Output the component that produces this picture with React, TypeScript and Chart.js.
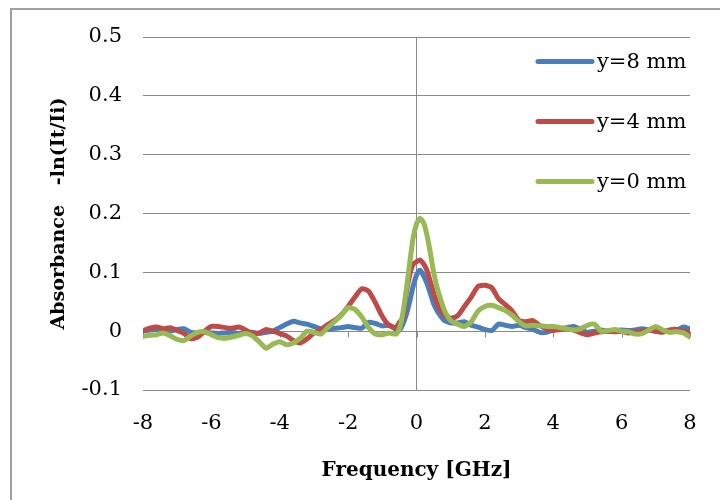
import React, { useEffect, useRef } from "react";
import { Chart, registerables } from "chart.js";

Chart.register(...registerables);

const freq = [
  -8, -7.8, -7.6, -7.4, -7.2, -7, -6.8, -6.6, -6.4, -6.2, -6, -5.8, -5.6, -5.4, -5.2, -5, -4.8, -4.6, -4.4, -4.2,
  -4, -3.8, -3.6, -3.4, -3.2, -3, -2.8, -2.6, -2.4, -2.2, -2, -1.8, -1.6, -1.4, -1.2, -1, -0.8, -0.6,
  -0.5, -0.4, -0.3, -0.2, -0.1, 0, 0.1, 0.2, 0.3, 0.4, 0.5, 0.6, 0.7, 0.8, 0.9,
  1, 1.2, 1.4, 1.6, 1.8, 2, 2.2, 2.4, 2.6, 2.8, 3, 3.2, 3.4, 3.6, 3.8, 4, 4.2, 4.4, 4.6, 4.8,
  5, 5.2, 5.4, 5.6, 5.8, 6, 6.2, 6.4, 6.6, 6.8, 7, 7.2, 7.4, 7.6, 7.8, 8,
];

const absY8 = [
  0.0, 0.002, 0.003, 0.001, 0.0, 0.003, 0.004, -0.002, -0.003, -0.002, -0.003, -0.004, -0.003, -0.002, -0.004, -0.003, -0.002, -0.004, -0.002, 0.0,
  0.006, 0.012, 0.017, 0.014, 0.012, 0.008, 0.004, 0.003, 0.005, 0.006, 0.008, 0.006, 0.005, 0.015, 0.013, 0.009, 0.01, 0.003,
  0.002, 0.012, 0.028, 0.05, 0.076, 0.095, 0.104, 0.095, 0.082, 0.065, 0.047, 0.035, 0.026, 0.019, 0.016,
  0.014, 0.014, 0.016, 0.01, 0.007, 0.003, 0.001, 0.012, 0.01, 0.008, 0.01, 0.006, 0.003, -0.002, -0.002, 0.002, 0.004, 0.006, 0.008, 0.003,
  -0.002, 0.0, 0.002, 0.0, 0.001, 0.002, 0.001, 0.002, 0.004, 0.002, 0.0, 0.001, 0.0, 0.001, 0.007, 0.004,
];

const absY4 = [
  0.001, 0.005, 0.007, 0.004, 0.006, 0.001, -0.004, -0.013, -0.01, 0.0, 0.008, 0.008, 0.006, 0.005, 0.007, 0.002, -0.004, -0.003, 0.003, 0.0,
  -0.004, -0.008, -0.016, -0.02, -0.013, -0.003, 0.003, 0.011, 0.018, 0.028, 0.042, 0.058, 0.072, 0.068, 0.048, 0.025, 0.01, 0.006,
  0.015, 0.022, 0.065, 0.095, 0.114, 0.118, 0.121, 0.115, 0.104, 0.085, 0.065, 0.048, 0.036, 0.028, 0.024,
  0.022, 0.026, 0.042, 0.058, 0.076, 0.078, 0.074, 0.055, 0.045, 0.034, 0.018, 0.016, 0.018, 0.01, 0.004, 0.001, 0.003, 0.004, 0.002, -0.003,
  -0.006, -0.003, -0.001, 0.0, -0.001, 0.0, -0.003, -0.001, 0.0, 0.002, 0.0, -0.002, 0.002, 0.003, 0.0, -0.001,
];

const absY0 = [
  -0.009, -0.007, -0.006, -0.003, -0.008, -0.014, -0.016, -0.008, -0.002, -0.001, -0.006, -0.011, -0.012, -0.01, -0.007, -0.004, -0.008, -0.018, -0.029, -0.022,
  -0.018, -0.023, -0.02, -0.012, 0.0, -0.002, -0.005, 0.006, 0.016, 0.027, 0.04, 0.037, 0.024, 0.006, -0.005, -0.006, -0.003, -0.005,
  0.005, 0.03, 0.07, 0.115, 0.158, 0.182, 0.192, 0.185, 0.165, 0.135, 0.1, 0.075, 0.055, 0.038, 0.026,
  0.018, 0.012, 0.008, 0.016, 0.034, 0.042, 0.044, 0.04, 0.035, 0.027, 0.016, 0.009, 0.01, 0.009, 0.008, 0.008, 0.006, 0.004, 0.002, 0.004,
  0.01, 0.012, 0.0, 0.001, 0.003, 0.0, -0.001, -0.005, -0.004, 0.002, 0.008, 0.002, -0.002, -0.001, -0.003, -0.01,
];

const seriesLabels = ["y=8 mm", "y=4 mm", "y=0 mm"];
const seriesColors = ["#4a7ebb", "#be4b48", "#98b954"];
const seriesValues = [absY8, absY4, absY0];

const xTitle = "Frequency [GHz]";
const yTitle = "Absorbance   -ln(It/Ii)";

const FONT = "'DejaVu Serif', serif";
const GRID = "#8a8a8a";

export default function App() {
  const ref = useRef<HTMLCanvasElement>(null);

  useEffect(() => {
    if (!ref.current) return;

    const zeroAxis = {
      id: "zeroAxis",
      beforeDatasetsDraw(chart: any) {
        const { ctx } = chart;
        const xs = chart.scales.x;
        const ys = chart.scales.y;
        const y0 = Math.round(ys.getPixelForValue(0)) + 0.5;
        ctx.save();
        ctx.strokeStyle = GRID;
        ctx.lineWidth = 1;
        xs.ticks.forEach((t: any) => {
          const px = Math.round(xs.getPixelForValue(t.value)) + 0.5;
          ctx.beginPath();
          ctx.moveTo(px, y0);
          ctx.lineTo(px, y0 + 6);
          ctx.stroke();
        });
        ctx.restore();
      },
    };

    const insideLegend = {
      id: "insideLegend",
      afterDraw(chart: any) {
        const { ctx, chartArea } = chart;
        ctx.save();
        ctx.font = `21px ${FONT}`;
        ctx.textAlign = "left";
        ctx.textBaseline = "middle";
        seriesLabels.forEach((label, i) => {
          const y = chartArea.top + 24.5 + i * 60;
          const x1 = chartArea.right - 152;
          const x2 = chartArea.right - 98;
          ctx.strokeStyle = seriesColors[i];
          ctx.lineWidth = 5;
          ctx.lineCap = "round";
          ctx.beginPath();
          ctx.moveTo(x1, y);
          ctx.lineTo(x2, y);
          ctx.stroke();
          ctx.fillStyle = "#000";
          ctx.fillText(label, chartArea.right - 93, y + 1);
        });
        ctx.restore();
      },
    };

    const datasets = seriesValues.map((vals, i) => ({
      label: seriesLabels[i],
      data: freq.map((f, k) => ({ x: f, y: vals[k] })),
      borderColor: seriesColors[i],
      backgroundColor: seriesColors[i],
      borderWidth: 5,
      pointRadius: 0,
      tension: 0.2,
      borderCapStyle: "round",
      borderJoinStyle: "round",
      fill: false,
      order: 2 - i,
    }));

    const chart = new Chart(ref.current, {
      type: "line",
      data: { datasets } as any,
      options: {
        animation: false,
        responsive: true,
        maintainAspectRatio: false,
        layout: { padding: { left: 0, right: 30, top: 37, bottom: 0 } },
        plugins: {
          legend: { display: false },
          tooltip: { enabled: false },
        },
        scales: {
          x: {
            type: "linear",
            min: -8,
            max: 8,
            ticks: {
              stepSize: 2,
              color: "#000",
              font: { family: FONT, size: 21 },
              padding: 21,
              maxRotation: 0,
              callback: (v: any) => String(v),
            },
            grid: {
              drawTicks: false,
              color: (c: any) => (c.tick && c.tick.value === 0 ? GRID : "rgba(0,0,0,0)"),
              lineWidth: 1,
            },
            border: { display: false },
            title: {
              display: true,
              text: xTitle,
              color: "#000",
              font: { family: FONT, size: 20, weight: "bold" },
              padding: { top: 0, bottom: 17 },
            },
            afterFit: (s: any) => {
              s.height = 110;
            },
          },
          y: {
            type: "linear",
            min: -0.1,
            max: 0.5,
            ticks: {
              stepSize: 0.1,
              color: "#000",
              font: { family: FONT, size: 21 },
              padding: 21,
              callback: (v: any) => String(Number(Number(v).toFixed(1))),
            },
            grid: { drawTicks: false, color: GRID, lineWidth: 1 },
            border: { display: false },
            title: {
              display: true,
              text: yTitle,
              color: "#000",
              font: { family: FONT, size: 19, weight: "bold" },
              padding: { top: 48, bottom: 0 },
            },
            afterFit: (s: any) => {
              s.width = 143;
            },
          },
        },
      } as any,
      plugins: [zeroAxis, insideLegend],
    });

    return () => chart.destroy();
  }, []);

  return (
    <div style={{ position: "absolute", left: 0, top: 0, width: 720, height: 500, background: "#fff" }}>
      <div
        style={{
          position: "absolute",
          left: 10,
          top: 8,
          width: 720,
          height: 500,
          borderLeft: "2px solid #a0a0a0",
          borderTop: "2px solid #a0a0a0",
        }}
      />
      <div style={{ position: "absolute", left: 0, top: 0, width: 720, height: 500 }}>
        <canvas ref={ref} />
      </div>
    </div>
  );
}
